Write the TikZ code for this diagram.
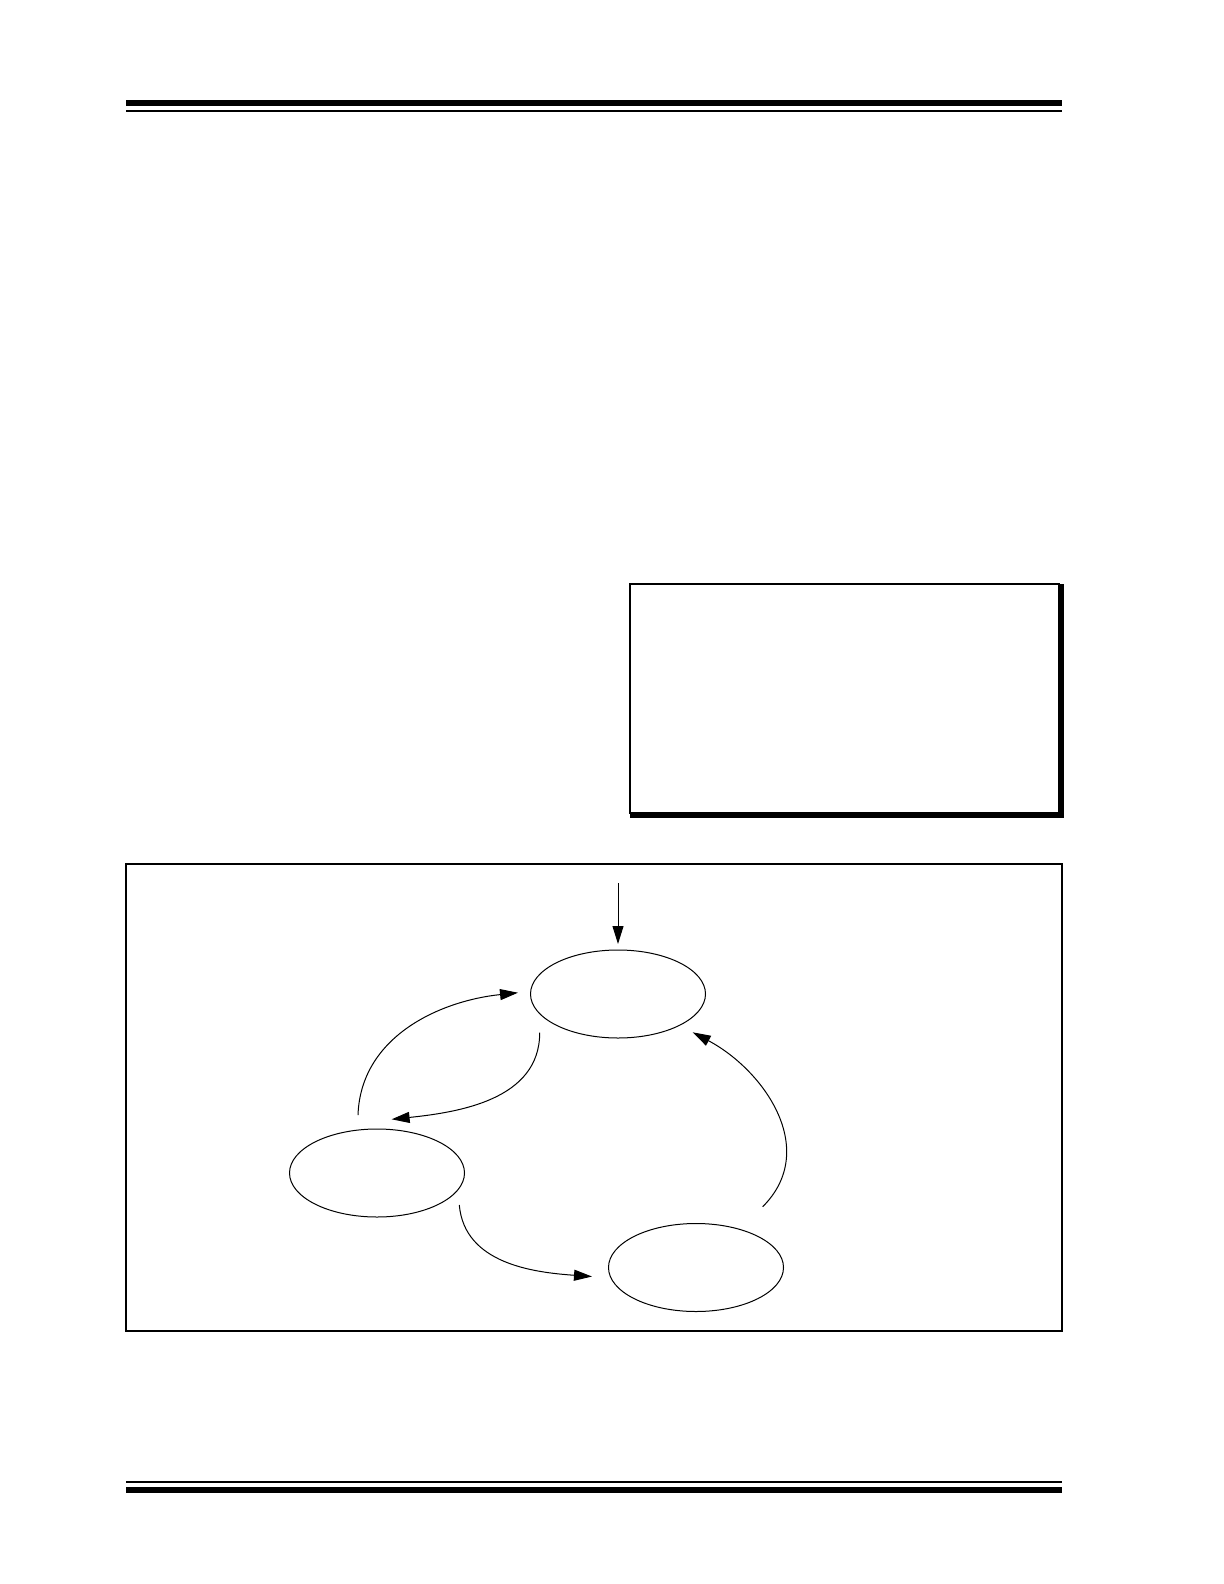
\documentclass[tikz,border=0pt]{standalone}
\usetikzlibrary{shapes.geometric,arrows.meta}
\begin{document}
\begin{tikzpicture}[x=0.5pt,y=0.5pt,line width=0.5pt,
  state/.style={draw,ellipse,inner sep=0pt,minimum width=87.5pt,minimum height=44pt},
  trans/.style={-{Triangle[length=9pt,width=5.5pt]}}]
\useasboundingbox (0,0) rectangle (1224,-1584);
% page rules
\fill (126,-100) rectangle (1062,-106);
\fill (126,-110) rectangle (1062,-112);
\fill (126,-1481) rectangle (1062,-1483);
\fill (126,-1487) rectangle (1062,-1493);
% side box with shadow
\draw[line width=0.6pt] (630,-584) rectangle (1059,-813);
\fill (1059,-584) rectangle (1064,-818);
\fill (630,-813) rectangle (1064,-818);
% figure frame
\draw[line width=0.6pt] (126,-864) rectangle (1062,-1331);
% states
\node[state] (stTop) at (618,-994) {};
\node[state] (stLeft) at (377,-1173) {};
\node[state] (stRight) at (696,-1267.5) {};
\coordinate (entry) at (618,-883);
% transitions
\draw[trans] (entry) -- ([shift={(0,5.5)}]stTop.north);
\draw[trans] ([shift={(-19,58)}]stLeft.center) to[out=88,in=186] ([shift={(-100,1.3)}]stTop.center);
\draw[trans] ([shift={(-78.3,-38.7)}]stTop.center) to[out=-90,in=6] ([shift={(14.6,53.7)}]stLeft.center);
\draw[trans] ([shift={(82.3,-32)}]stLeft.center) to[out=-85,in=176] ([shift={(-104,-9)}]stRight.center);
\draw[trans] ([shift={(66.7,60.8)}]stRight.center) to[out=45,in=-28,looseness=1.1] ([shift={(74.7,-38.3)}]stTop.center);
\end{tikzpicture}
\end{document}
